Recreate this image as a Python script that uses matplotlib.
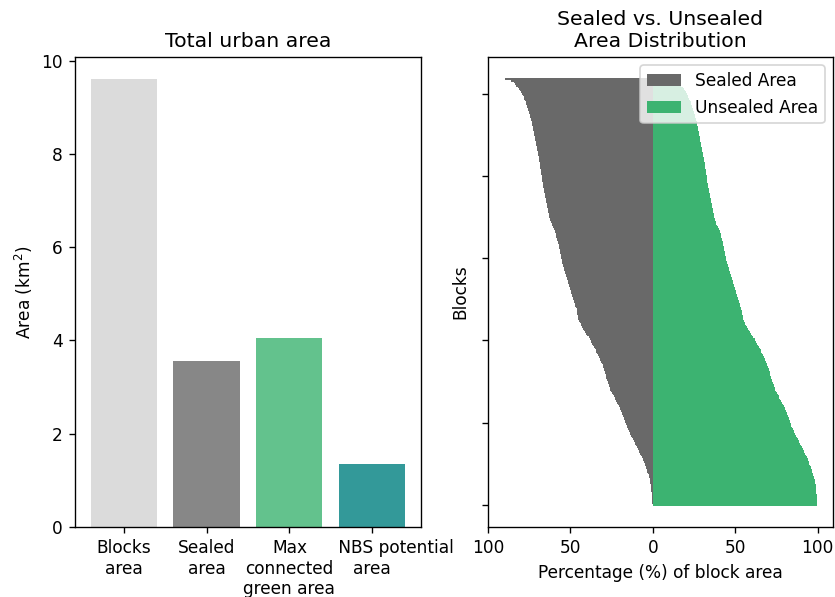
#! /usr/bin/env python3

"""Urban area summary and sealed/unsealed share per block"""

import numpy as np
import matplotlib
matplotlib.use("Agg")
import matplotlib.pyplot as plt

# total areas in km2 (leading spaces push the last label clear of its neighbour)
area_labels = ["Blocks\narea", "Sealed\narea", "Max\nconnected\ngreen area", "         NBS potential\narea"]
area_values = [9.6, 3.55, 4.05, 1.35]
area_colors = ["lightgray", "dimgray", "mediumseagreen", "teal"]

# sealed share (%) of each block, sorted from lowest to highest
sealed_pct = [
    0.2, 0.3, 0.4, 0.5, 0.5, 0.6, 0.7, 0.8, 0.9, 0.9,
    1.0, 1.1, 1.3, 1.5, 1.6, 1.8, 2.0, 2.3, 2.6, 2.9,
    3.3, 3.6, 4.0, 4.3, 4.7, 5.0, 5.3, 5.7, 6.0, 6.5,
    7.0, 7.6, 8.1, 8.6, 9.1, 9.6, 10.1, 10.6, 11.1, 11.6,
    12.1, 12.6, 13.1, 13.6, 14.1, 14.6, 15.1, 15.5, 15.9, 16.3,
    16.7, 17.1, 17.4, 17.7, 18.1, 18.5, 18.9, 19.3, 19.7, 20.1,
    20.6, 21.1, 21.7, 22.2, 22.7, 23.2, 23.7, 24.2, 24.7, 25.2,
    25.7, 26.2, 26.5, 26.8, 27.2, 27.5, 27.9, 28.2, 28.4, 28.7,
    28.9, 29.1, 29.4, 29.6, 30.1, 30.5, 30.9, 31.3, 31.8, 32.2,
    32.7, 33.2, 33.7, 34.2, 34.7, 35.2, 35.7, 36.2, 36.8, 37.3,
    37.8, 38.3, 39.0, 39.7, 40.3, 41.0, 41.7, 42.3, 42.8, 43.3,
    43.8, 44.3, 44.8, 45.3, 45.5, 45.6, 45.8, 46.0, 46.1, 46.3,
    46.6, 47.0, 47.3, 47.6, 48.0, 48.3, 48.6, 48.9, 49.2, 49.5,
    49.8, 50.1, 50.4, 50.6, 50.9, 51.2, 51.5, 51.8, 52.1, 52.4,
    52.7, 53.0, 53.3, 53.6, 53.9, 54.2, 54.5, 54.8, 55.1, 55.4,
    55.6, 55.8, 56.0, 56.2, 56.4, 56.6, 56.8, 57.0, 57.2, 57.4,
    57.7, 58.0, 58.2, 58.5, 58.7, 58.9, 59.2, 59.4, 59.9, 60.4,
    60.9, 61.4, 61.9, 62.4, 62.6, 62.8, 63.0, 63.2, 63.4, 63.6,
    63.8, 64.0, 64.2, 64.4, 64.6, 64.8, 65.0, 65.2, 65.4, 65.6,
    65.8, 66.0, 66.2, 66.4, 66.6, 66.8, 66.9, 67.0, 67.2, 67.3,
    67.4, 67.6, 67.7, 67.9, 68.0, 68.2, 68.3, 68.5, 68.6, 68.8,
    68.9, 69.1, 69.3, 69.5, 69.7, 69.9, 70.1, 70.3, 70.5, 70.7,
    70.9, 71.1, 71.3, 71.5, 71.7, 71.9, 72.1, 72.3, 72.5, 72.7,
    72.9, 73.1, 73.3, 73.5, 73.7, 74.0, 74.3, 74.6, 74.9, 75.2,
    75.5, 75.8, 76.1, 76.4, 76.7, 77.0, 77.6, 78.0, 78.4, 78.9,
    79.5, 80.0, 80.5, 81.3, 82.0, 82.7, 83.5, 84.4, 86.0, 89.6,
]

x_ticks = [-100, -50, 0, 50, 100]
x_tick_labels = ["100", "50", "0", "50", "100"]
y_ticks = [0, 50, 100, 150, 200, 250]


def main():
    sealed = np.array(sealed_pct)
    unsealed = 100 - sealed
    blocks = np.arange(len(sealed))

    # the reference was rendered at a higher dpi, so text and lines are larger
    dpi = 122
    fig = plt.figure(figsize=(835 / dpi, 597 / dpi), dpi=dpi)
    ax1 = fig.add_axes([0.0898, 0.1173, 0.4144, 0.7873])
    ax2 = fig.add_axes([0.5844, 0.1173, 0.4132, 0.7873])

    # left: total areas
    ax1.bar(area_labels, area_values, color=area_colors, alpha=0.8)
    ax1.set_title("Total urban area")
    ax1.set_ylabel("Area (km$^2$)")

    # right: sealed to the left, unsealed to the right
    ax2.barh(blocks, -sealed, height=1, color="dimgray", label="Sealed Area")
    ax2.barh(blocks, unsealed, height=1, color="mediumseagreen", label="Unsealed Area")
    ax2.set_xticks(x_ticks)
    ax2.set_xticklabels(x_tick_labels)
    ax2.set_yticks(y_ticks)
    ax2.set_yticklabels([])
    ax2.set_xlabel("Percentage (%) of block area")
    ax2.set_ylabel("Blocks")
    ax2.set_title("Sealed vs. Unsealed\nArea Distribution")
    ax2.legend(loc="upper right")

    fig.savefig("out.png", dpi=dpi)


if __name__ == "__main__":
    main()
